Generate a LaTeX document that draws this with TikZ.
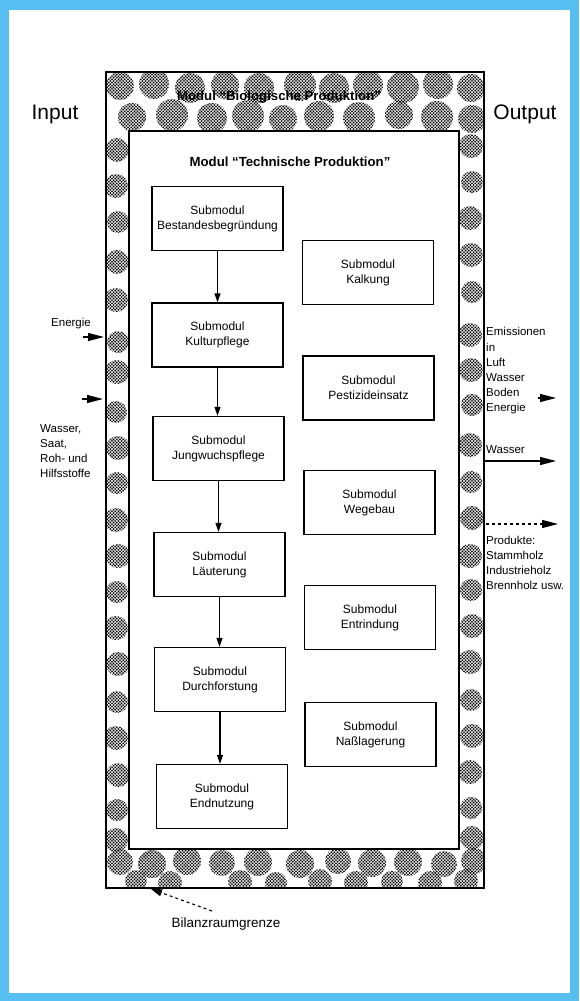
\documentclass[tikz,border=0pt]{standalone}
\usepackage{fontspec}
\setmainfont{Liberation Sans}
\usetikzlibrary{arrows.meta,patterns}
\definecolor{frameblue}{RGB}{86,190,240}
\pgfdeclarepatternformonly{stip}{\pgfqpoint{-1.2pt}{-1.2pt}}{\pgfqpoint{2.8pt}{2.8pt}}{\pgfqpoint{3.2pt}{3.2pt}}{%
  \pgfpathcircle{\pgfqpoint{0pt}{0pt}}{1.0pt}%
  \pgfpathcircle{\pgfqpoint{1.6pt}{1.6pt}}{1.0pt}%
  \pgfusepath{fill}}
\begin{document}
\begin{tikzpicture}[x=1pt,y=-1pt,
  subbox/.style={draw, line width=1.3pt, minimum width=131pt, minimum height=64pt,
    align=center, inner sep=0pt, font=\fontsize{12}{15}\selectfont},
  lbl/.style={inner sep=0pt, align=left, font=\fontsize{11.5}{15.2}\selectfont},
  io/.style={inner sep=0pt, font=\fontsize{21}{24}\selectfont},
  ttl/.style={inner sep=0pt, font=\fontsize{13.2}{15}\selectfont\bfseries},
  frame/.style={draw, line width=1.3pt},
  arr/.style={line width=1.2pt, -{Triangle[length=9pt,width=6pt]}},
  bigarr/.style={line width=1.2pt, -{Triangle[length=16pt,width=8pt]}},
  blob/.style={pattern=stip, pattern color=black}]
\useasboundingbox (0,0) rectangle (579,1001);
\fill[frameblue] (0,0) rectangle (579,1001);
\fill[white] (9,10) rectangle (570,993);

% stippled band of the biological module
\begin{scope}
\clip (106,72) rectangle (484,888);
\foreach \x/\y/\r in {120/86/14,154/84/15,190/88/15,225/85/14,259/88/15,300/85/16,334/88/15,
  368/85/15,403/87/16,438/84/15,471/88/14,
  132/117/14,172/115/16,212/118/15,248/116/16,283/119/14,319/116/15,359/118/16,
  399/115/14,437/117/16,472/119/14,
  117/150/12,116/186/12,118/222/11,117/262/12,116/300/12,118/342/11,117/372/12,
  116/412/11,118/448/12,117/483/11,116/520/12,118/556/12,117/592/11,116/628/12,
  118/664/12,117/702/11,116/738/12,118/775/12,117/810/11,116/840/12,
  471/146/12,472/182/11,470/218/12,471/255/12,472/292/11,470/335/12,471/370/12,
  472/405/11,470/445/12,471/482/11,472/518/12,470/556/12,471/590/11,472/626/12,
  470/662/12,471/700/11,472/736/12,470/772/12,471/808/11,472/838/12,
  120/862/13,152/864/14,187/861/14,222/863/13,258/862/14,300/864/14,338/861/13,
  372/863/14,408/862/14,444/864/13,474/861/13,
  136/881/11,170/883/12,240/882/12,276/883/11,320/881/12,356/883/12,392/882/11,
  430/883/12,466/881/12}
  \fill[blob] (\x,\y) circle[radius=\r];
\end{scope}
\fill[white] (129,131) rectangle (459,849);

% frames
\node[frame, minimum width=378pt, minimum height=816pt, inner sep=0pt] (bio) at (295,480) {};
\node[frame, minimum width=330pt, minimum height=718pt, inner sep=0pt] (tech) at (294,490) {};

% titles
\node[ttl] (tbio) at (279,97) {Modul “Biologische Produktion”};
\node[ttl] (ttech) at (290,162) {Modul “Technische Produktion”};
\node[io] (input) at (55,114) {Input};
\node[io] (output) at (525,114) {Output};

% left column of submodules
\node[subbox] (L1) at (217.5,218.5) {Submodul\\Bestandesbegründung};
\node[subbox] (L2) at (217.5,335) {Submodul\\Kulturpflege};
\node[subbox] (L3) at (218.5,448.5) {Submodul\\Jungwuchspflege};
\node[subbox] (L4) at (219.5,564.5) {Submodul\\Läuterung};
\node[subbox] (L5) at (220,679.5) {Submodul\\Durchforstung};
\node[subbox] (L6) at (222,796.5) {Submodul\\Endnutzung};

% right column of submodules
\node[subbox] (R1) at (368,272.5) {Submodul\\Kalkung};
\node[subbox] (R2) at (368.5,388) {Submodul\\Pestizideinsatz};
\node[subbox] (R3) at (369.5,502.5) {Submodul\\Wegebau};
\node[subbox] (R4) at (370,617.5) {Submodul\\Entrindung};
\node[subbox] (R5) at (370.5,734.5) {Submodul\\Naßlagerung};

% connectors between submodules
\draw[arr] (L1.south) -- (L1.south |- L2.north);
\draw[arr] (L2.south) -- (L2.south |- L3.north);
\draw[arr] (L3.south) -- (L3.south |- L4.north);
\draw[arr] (L4.south) -- (L4.south |- L5.north);
\draw[arr] (L5.south) -- (L5.south |- L6.north);

% inputs
\node[lbl, anchor=west] (energiein) at (51,324) {Energie};
\node[lbl, anchor=west] (stoffe) at (40,451) {Wasser,\\Saat,\\Roh- und\\Hilfsstoffe};
\coordinate (e1a) at (83,337);
\coordinate (e1b) at (104,337);
\coordinate (e2a) at (82,399);
\coordinate (e2b) at (103,399);
\draw[bigarr] (e1a) -- (e1b);
\draw[bigarr] (e2a) -- (e2b);

% outputs
\node[lbl, anchor=west] (emis) at (486,371) {Emissionen\\in\\Luft\\Wasser\\Boden\\Energie};
\node[lbl, anchor=west] (wasserout) at (486,450) {Wasser};
\node[lbl, anchor=west] (produkte) at (486,563) {Produkte:\\Stammholz\\Industrieholz\\Brennholz usw.};
\coordinate (o1a) at (538,398);
\coordinate (o1b) at (556,398);
\coordinate (o2a) at (484,461);
\coordinate (o2b) at (556,461);
\coordinate (o3a) at (486,524);
\coordinate (o3b) at (558,524);
\draw[bigarr] (o1a) -- (o1b);
\draw[bigarr] (o2a) -- (o2b);
\draw[bigarr, dashed] (o3a) -- (o3b);

% system boundary label
\node[lbl, font=\fontsize{13.5}{16}\selectfont] (grenze) at (226,924) {Bilanzraumgrenze};
\coordinate (g1) at (212,911);
\coordinate (g2) at (151,889);
\draw[line width=1.1pt, dashed, -{Triangle[length=11pt,width=7pt]}] (g1) -- (g2);
\end{tikzpicture}
\end{document}
